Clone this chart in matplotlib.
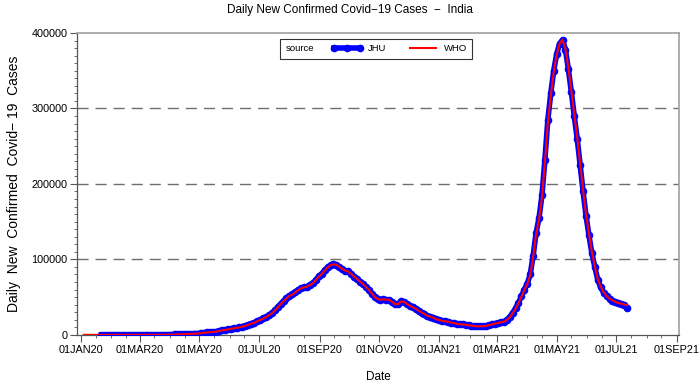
import matplotlib
matplotlib.use("Agg")
import matplotlib.pyplot as plt
import matplotlib.dates as mdates
import matplotlib.ticker as mticker
from matplotlib.lines import Line2D
from matplotlib.offsetbox import HPacker
import pandas as pd

plt.rcParams["font.family"] = ["Liberation Sans", "DejaVu Sans"]

# ---------------------------------------------------------------------------
# Data: 7-day average of daily new cases, every 3 days
# ---------------------------------------------------------------------------
JHU_START = "2020-01-22"
jhu_cases = [
    0, 0, 0, 0, 0, 0, 0, 0, 0, 0,
    0, 0, 0, 0, 3, 4, 7, 10, 14, 25,
    50, 75, 120, 190, 330, 480, 600, 790, 920, 1060,
    1240, 1400, 1600, 1750, 2200, 2900, 3300, 3600, 3700, 4300,
    5100, 6000, 6500, 7300, 8000, 8700, 9300, 10000, 11000, 12000,
    13400, 14700, 16300, 18000, 19700, 21700, 23500, 26000, 28800, 32500,
    36500, 41000, 45000, 48500, 52000, 53500, 56500, 59500, 62000, 63000,
    64000, 66500, 68500, 73000, 77500, 81000, 85500, 89500, 92500, 93500,
    93000, 90000, 87000, 85000, 84000, 80500, 77000, 74000, 70500, 67500,
    63500, 59500, 54500, 50000, 47500, 46500, 47000, 46500, 46500, 43500,
    40500, 41000, 44500, 43500, 41000, 38500, 36500, 34500, 32000, 29500,
    27500, 25000, 24000, 22500, 20500, 19500, 18500, 18000, 17500, 16200,
    15500, 14500, 14200, 13800, 13200, 12800, 12000, 11500, 11200, 11300,
    11400, 12000, 13000, 13900, 15000, 15800, 16500, 17500, 20000, 23500,
    29000, 35000, 42500, 51000, 60000, 68000, 80000, 105000, 135000, 155000,
    185000, 232000, 285000, 320000, 350000, 372000, 386000, 391000, 378000, 352000,
    322000, 290000, 260000, 225000, 190000, 158000, 132000, 108000, 90000, 73000,
    63000, 56000, 51000, 47500, 45500, 43500, 42000, 41000, 40000, 36000,
]

WHO_START = "2020-01-04"
who_cases = [
    0, 0, 0, 0, 0, 0,
    0, 0, 0, 0, 0, 0, 0, 0, 0, 0,
    0, 0, 0, 0, 2, 4, 6, 9, 13, 22,
    45, 70, 110, 180, 300, 460, 590, 770, 910, 1050,
    1220, 1380, 1580, 1740, 2150, 2850, 3250, 3550, 3700, 4250,
    5000, 5900, 6450, 7250, 7950, 8650, 9250, 9950, 10900, 11900,
    13300, 14600, 16200, 17900, 19600, 21500, 23300, 25800, 28500, 32000,
    36000, 40500, 44600, 48200, 51700, 53300, 56200, 59300, 61800, 62900,
    63900, 66200, 68300, 72600, 77000, 80700, 85000, 89200, 92300, 93400,
    93000, 90300, 87300, 85200, 84100, 80800, 77300, 74200, 70800, 67800,
    63800, 59800, 55000, 50400, 47700, 46600, 47000, 46600, 46400, 43700,
    40600, 40900, 44300, 43600, 41200, 38700, 36700, 34600, 32200, 29700,
    27600, 25200, 24100, 22600, 20700, 19600, 18600, 18000, 17500, 16300,
    15600, 14600, 14200, 13800, 13300, 12800, 12100, 11600, 11200, 11300,
    11400, 11900, 12900, 13800, 14900, 15700, 16400, 17400, 19700, 23100,
    28500, 34500, 42000, 50500, 59500, 67500, 79000, 103000, 133000, 153000,
    182000, 228000, 281000, 317000, 348000, 371000, 386000, 391000, 379000, 354000,
    324000, 292000, 262000, 227000, 192000, 160000, 134000, 110000, 91000, 74000,
    64000, 56500, 51500, 48000, 45800, 43800, 42300, 41300, 40300, 39500,
]

jhu_dates = pd.date_range(JHU_START, periods=len(jhu_cases), freq="3D")
who_dates = pd.date_range(WHO_START, periods=len(who_cases), freq="3D")

y_ticks = [0, 100000, 200000, 300000, 400000]
grid_levels = [100000, 200000, 300000]

JHU_STYLE = dict(color="#0000ff", lw=4.0, marker="o", markersize=5.5,
                 markeredgewidth=0)
WHO_STYLE = dict(color="#ff0000", lw=1.5)

# ---------------------------------------------------------------------------
# Plot
# ---------------------------------------------------------------------------
fig = plt.figure(figsize=(7.0, 3.84), dpi=100)
ax = fig.add_axes([0.110, 0.128, 0.860, 0.786])

for lev in grid_levels:
    ax.axhline(lev, color="#6e6e6e", lw=1.0, dashes=(8, 5), zorder=1)

ax.plot(jhu_dates, jhu_cases, zorder=3, label="JHU", **JHU_STYLE)
ax.plot(who_dates, who_cases, zorder=4, label="WHO", **WHO_STYLE)

ax.set_xlim(pd.Timestamp("2019-12-28"), pd.Timestamp("2021-09-03"))
ax.set_ylim(0, 400000)

ax.xaxis.set_major_locator(mdates.MonthLocator(bymonth=[1, 3, 5, 7, 9, 11]))
ax.xaxis.set_minor_locator(mdates.MonthLocator(bymonthday=[1, 16]))
ax.xaxis.set_major_formatter(mticker.FuncFormatter(
    lambda v, p: mdates.num2date(v).strftime("%d%b%y").upper()))
ax.yaxis.set_major_locator(mticker.FixedLocator(y_ticks))
ax.yaxis.set_minor_locator(mticker.MultipleLocator(10000))
ax.yaxis.set_major_formatter(mticker.FuncFormatter(lambda v, p: f"{int(v)}"))

ax.tick_params(which="major", direction="out", length=5, width=0.8,
               color="#555555", labelsize=7.8, pad=2)
ax.tick_params(which="minor", direction="out", length=2.5, width=0.6,
               color="#555555")

for side in ("left", "bottom"):
    ax.spines[side].set_color("#555555")
    ax.spines[side].set_linewidth(0.9)
for side in ("top", "right"):
    ax.spines[side].set_color("#a0a0a0")
    ax.spines[side].set_linewidth(1.2)

ax.set_xlabel("Date", fontsize=8.5, labelpad=12)
ax.set_ylabel("Daily  New  Confirmed  Covid\u2212 19  Cases", fontsize=10,
              labelpad=7)
fig.text(0.5, 0.973, "Daily New Confirmed Covid\u221219 Cases  \u2212  India",
         ha="center", va="center", fontsize=8.5)

# legend with the "source" title laid out on the left
handles = [Line2D([], [], **JHU_STYLE), Line2D([], [], **WHO_STYLE)]
leg = ax.legend(handles, ["JHU", "WHO"], title="source", ncol=2,
                loc="upper center", bbox_to_anchor=(0.497, 0.995),
                fontsize=6.8, title_fontsize=6.8, frameon=True,
                fancybox=False, handlelength=3.4, columnspacing=2.2,
                borderpad=0.55, handletextpad=0.5, numpoints=3)
leg.get_frame().set_edgecolor("black")
leg.get_frame().set_linewidth(0.8)
leg._legend_box.__class__ = HPacker
leg._legend_box.sep = 12

fig.savefig("out.png", dpi=100)
